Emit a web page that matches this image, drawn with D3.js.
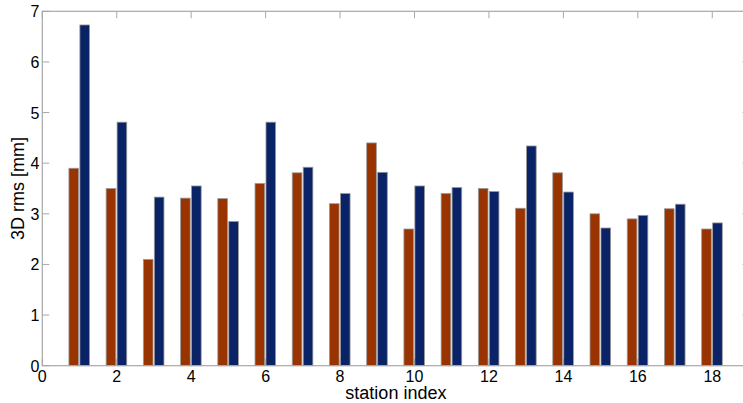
<!DOCTYPE html>
<html>
<head>
<meta charset="utf-8">
<script src="https://cdn.jsdelivr.net/npm/d3@7"></script>
<style>
  body { margin: 0; background: #fff; }
  svg text { font-family: "Liberation Sans", Arial, sans-serif; fill: #000; }
</style>
</head>
<body>
<div id="chart"></div>
<script>
// station data
var stations = [1, 2, 3, 4, 5, 6, 7, 8, 9, 10, 11, 12, 13, 14, 15, 16, 17, 18];
var seriesA = [3.90, 3.50, 2.10, 3.31, 3.30, 3.60, 3.81, 3.20, 4.40, 2.70, 3.40, 3.50, 3.11, 3.81, 3.00, 2.90, 3.10, 2.70];
var seriesB = [6.73, 4.81, 3.33, 3.55, 2.85, 4.81, 3.92, 3.40, 3.82, 3.55, 3.52, 3.44, 4.34, 3.43, 2.72, 2.97, 3.19, 2.82];
var seriesNames = ["a", "b"];
var seriesColors = ["#993300", "#0a2266"];
var xTicks = [0, 2, 4, 6, 8, 10, 12, 14, 16, 18];
var yTicks = [0, 1, 2, 3, 4, 5, 6, 7];

var W = 743, H = 403;
var margin = { left: 42.3, top: 11.3, right: -6.5, bottom: 37.3 };

var svg = d3.select("#chart").append("svg")
	.attr("width", W)
	.attr("height", H);

var x = d3.scaleLinear().domain([0, 19]).range([margin.left, W - margin.right]);
var y = d3.scaleLinear().domain([0, 7]).range([H - margin.bottom, margin.top]);
var xs = d3.scaleBand().domain(seriesNames).range([-10.6, 10]).paddingInner(0.12);

var axisColor = "#a8a8a8";
var tickLen = 7;

// ticks (inward) on all four sides, drawn under the bars
var g = svg.append("g");
xTicks.forEach(function (t) {
	g.append("line").attr("x1", x(t)).attr("x2", x(t))
		.attr("y1", y(0)).attr("y2", y(0) - tickLen)
		.attr("stroke", axisColor);
	g.append("line").attr("x1", x(t)).attr("x2", x(t))
		.attr("y1", y(7)).attr("y2", y(7) + tickLen)
		.attr("stroke", axisColor);
});
yTicks.forEach(function (t) {
	g.append("line").attr("x1", x(0)).attr("x2", x(0) + tickLen)
		.attr("y1", y(t)).attr("y2", y(t))
		.attr("stroke", axisColor);
	g.append("line").attr("x1", x(19)).attr("x2", x(19) - tickLen)
		.attr("y1", y(t)).attr("y2", y(t))
		.attr("stroke", axisColor);
});

// bars
var rows = stations.map(function (s, i) {
	return { station: s, values: [seriesA[i], seriesB[i]] };
});

var groups = svg.selectAll("g.station")
	.data(rows)
	.enter().append("g")
	.attr("class", "station")
	.attr("transform", function (d) { return "translate(" + x(d.station) + ",0)"; });

groups.selectAll("rect")
	.data(function (d) { return d.values.map(function (v, k) { return { key: seriesNames[k], value: v, k: k }; }); })
	.enter().append("rect")
	.attr("x", function (d) { return xs(d.key); })
	.attr("width", xs.bandwidth())
	.attr("y", function (d) { return y(d.value); })
	.attr("height", function (d) { return y(0) - y(d.value); })
	.attr("fill", function (d) { return seriesColors[d.k]; })
	.attr("stroke", "#9a9a9a")
	.attr("stroke-width", 0.8);

// box
svg.append("rect")
	.attr("x", x(0)).attr("y", y(7))
	.attr("width", x(19) - x(0)).attr("height", y(0) - y(7))
	.attr("fill", "none")
	.attr("stroke", axisColor)
	.attr("stroke-width", 1.2);

// tick labels
svg.selectAll("text.xt")
	.data(xTicks)
	.enter().append("text")
	.attr("class", "xt")
	.attr("x", function (d) { return x(d); })
	.attr("y", y(0) + 16.5)
	.attr("text-anchor", "middle")
	.style("font-size", "16px")
	.text(function (d) { return d; });

svg.selectAll("text.yt")
	.data(yTicks)
	.enter().append("text")
	.attr("class", "yt")
	.attr("x", x(0) - 3)
	.attr("y", function (d) { return y(d) + 6; })
	.attr("text-anchor", "end")
	.style("font-size", "16px")
	.text(function (d) { return d; });

// axis titles
svg.append("text")
	.attr("x", (x(0) + x(19)) / 2)
	.attr("y", 399)
	.attr("text-anchor", "middle")
	.style("font-size", "18px")
	.text("station index");

svg.append("text")
	.attr("transform", "translate(24," + ((y(0) + y(7)) / 2) + ") rotate(-90)")
	.attr("text-anchor", "middle")
	.style("font-size", "18px")
	.text("3D rms [mm]");
</script>
</body>
</html>
